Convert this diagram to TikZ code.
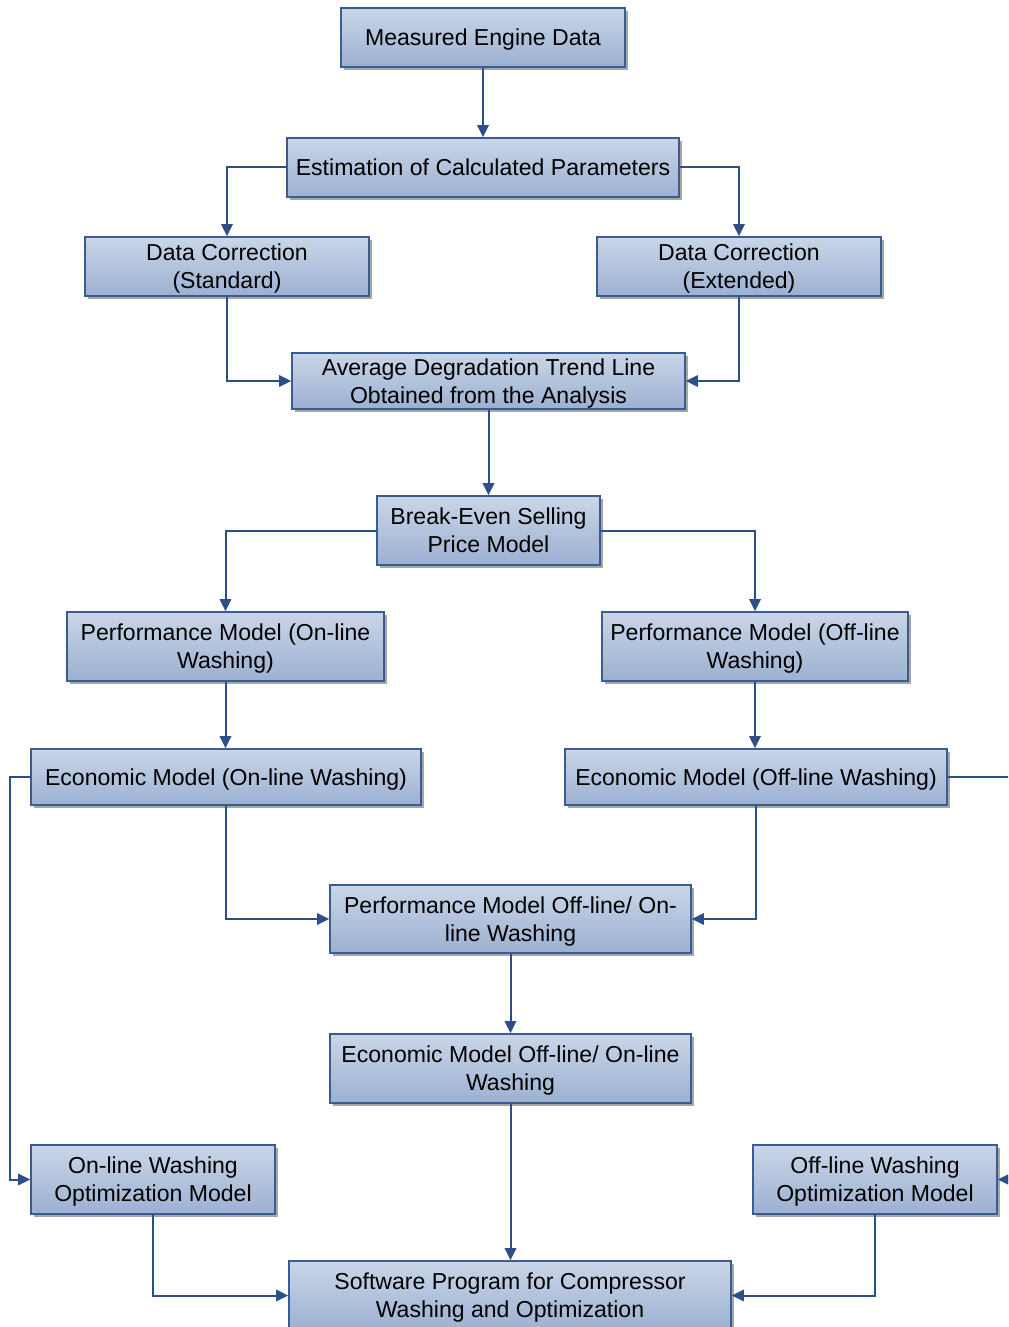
\documentclass[tikz,border=0pt]{standalone}
\usepackage{fontspec}
\setmainfont{Liberation Sans}
\usetikzlibrary{arrows.meta,shadows}
\definecolor{boxtop}{HTML}{CAD6E8}
\definecolor{boxbot}{HTML}{9CB0D1}
\definecolor{boxline}{HTML}{3A5C8E}
\definecolor{wire}{HTML}{2C4F8A}
\tikzset{
  box/.style={draw=boxline, line width=1.2pt, top color=boxtop, bottom color=boxbot,
    align=center, inner xsep=2pt, inner ysep=0pt, font=\fontsize{17.3}{21}\selectfont,
    % extra room above and a fixed depth below keep the lines evenly placed
    execute at begin node={\vbox\bgroup\kern3.9pt\hbox\bgroup},
    execute at end node={\rule[-4.3pt]{0pt}{4.3pt}\egroup\egroup},
    drop shadow={shadow xshift=2pt, shadow yshift=-2pt, fill=black, opacity=.35}},
  flow/.style={draw=wire, line width=1.5pt, -{Triangle[length=9pt,width=8.5pt]}}
}
\begin{document}
\begin{tikzpicture}[x=0.75pt,y=-0.75pt]
\useasboundingbox (0,0) rectangle (1008,1327);
\clip (0,0) rectangle (1008,1327);

% boxes
\node[box, minimum width=213pt, minimum height=44.25pt] (med) at (483,37.5) {Measured Engine Data};
\node[box, minimum width=294pt, minimum height=44.25pt] (ecp) at (483,167.5) {Estimation of Calculated Parameters};
\node[box, minimum width=213pt, minimum height=44.25pt] (dcs) at (227,266.5) {Data Correction\\(Standard)};
\node[box, minimum width=213pt, minimum height=44.25pt] (dce) at (739,266.5) {Data Correction\\(Extended)};
\node[box, minimum width=294.75pt, minimum height=42pt] (adt) at (488.5,381) {Average Degradation Trend Line\\Obtained from the Analysis};
\node[box, minimum width=167.25pt, minimum height=51.75pt] (bes) at (488.5,530.5) {Break-Even Selling\\Price Model};
\node[box, minimum width=237.75pt, minimum height=51.75pt] (pon) at (225.5,646.5) {Performance Model (On-line\\Washing)};
\node[box, minimum width=229.5pt, minimum height=51.75pt] (poff) at (755,646.5) {Performance Model (Off-line\\Washing)};
\node[box, minimum width=292.5pt, minimum height=42pt] (eon) at (226,777) {Economic Model (On-line Washing)};
\node[box, minimum width=286.5pt, minimum height=42pt] (eoff) at (756,777) {Economic Model (Off-line Washing)};
\node[box, minimum width=270.75pt, minimum height=51pt] (pboth) at (510.5,919) {Performance Model Off-line/ On-\\line Washing};
\node[box, minimum width=270.75pt, minimum height=51.75pt] (eboth) at (510.5,1068.5) {Economic Model Off-line/ On-line\\Washing};
\node[box, minimum width=183pt, minimum height=51.75pt] (oon) at (153,1179.5) {On-line Washing\\Optimization Model};
\node[box, minimum width=183pt, minimum height=51.75pt] (ooff) at (875,1179.5) {Off-line Washing\\Optimization Model};
\node[box, minimum width=331.5pt, minimum height=51.75pt] (sw) at (510,1295.5) {Software Program for Compressor\\Washing and Optimization};

% connectors
\draw[flow] (med) -- (ecp);
\draw[flow] (ecp.west) -| (dcs.north);
\draw[flow] (ecp.east) -| (dce.north);
\draw[flow] (dcs.south) |- (adt.west);
\draw[flow] (dce.south) |- (adt.east);
\draw[flow] (adt) -- (bes);
\draw[flow] (bes.west) -| (pon.north);
\draw[flow] (bes.east) -| (poff.north);
\draw[flow] (pon.south) -- (pon.south |- eon.north);
\draw[flow] (poff.south) -- (poff.south |- eoff.north);
\draw[flow] (eon.south) |- (pboth.west);
\draw[flow] (eoff.south) |- (pboth.east);
\draw[flow] (pboth) -- (eboth);
\draw[flow] (eboth.south) -- (eboth.south |- sw.north);
\draw[flow] (eon.west) -- ++(-20,0) |- (oon.west);
\draw[flow] (eoff.east) -- ++(75,0) |- (ooff.east);
\draw[flow] (oon.south) |- (sw.west);
\draw[flow] (ooff.south) |- (sw.east);
\end{tikzpicture}
\end{document}
